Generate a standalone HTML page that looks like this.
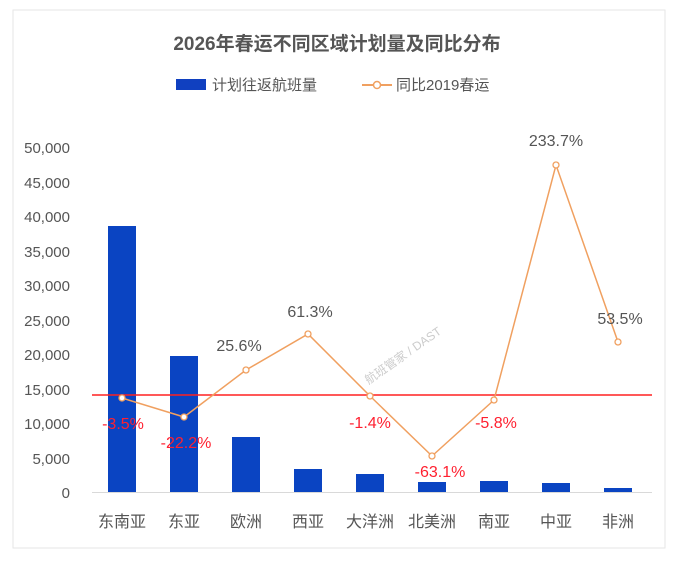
<!DOCTYPE html>
<html><head><meta charset="utf-8"><style>
body{margin:0;background:#fff;}
svg text{font-family:"Liberation Sans","Noto Sans CJK SC",sans-serif;}
</style></head><body>
<svg width="675" height="561" xmlns="http://www.w3.org/2000/svg">
<rect x="0" y="0" width="675" height="561" fill="#fff"/>
<rect x="13" y="10" width="652" height="538" fill="#fff" stroke="#e6e6e6"/>
<text x="337" y="50" text-anchor="middle" font-size="19" font-weight="bold" fill="#555">2026年春运不同区域计划量及同比分布</text>
<rect x="176" y="79" width="30" height="11" fill="#1040c0"/>
<text x="212" y="90" font-size="15" fill="#555">计划往返航班量</text>
<line x1="362" y1="85" x2="392" y2="85" stroke="#f0a060" stroke-width="2"/>
<circle cx="377" cy="85" r="3.5" fill="#fff" stroke="#f0a060" stroke-width="1.5"/>
<text x="396" y="90" font-size="15" fill="#555">同比2019春运</text>
<g font-size="15" fill="#555" text-anchor="end">
<text x="70" y="153">50,000</text><text x="70" y="188">45,000</text><text x="70" y="222">40,000</text>
<text x="70" y="257">35,000</text><text x="70" y="291">30,000</text><text x="70" y="326">25,000</text>
<text x="70" y="360">20,000</text><text x="70" y="395">15,000</text><text x="70" y="429">10,000</text>
<text x="70" y="464">5,000</text><text x="70" y="498">0</text>
</g>
<line x1="92" y1="492.5" x2="652" y2="492.5" stroke="#d9d9d9"/>
<g fill="#0a44c2">
<rect x="108" y="226" width="28" height="266"/>
<rect x="170" y="356" width="28" height="136"/>
<rect x="232" y="437" width="28" height="55"/>
<rect x="294" y="469" width="28" height="23"/>
<rect x="356" y="474" width="28" height="18"/>
<rect x="418" y="482" width="28" height="10"/>
<rect x="480" y="481" width="28" height="11"/>
<rect x="542" y="483" width="28" height="9"/>
<rect x="604" y="488" width="28" height="4"/>
</g>
<text x="345" y="370" font-size="12" fill="#ccc" transform="rotate(-35 380 340)">航班管家 / DAST</text>
<line x1="92" y1="395" x2="652" y2="395" stroke="#ff2020" stroke-width="1.5"/>
<polyline points="122,398 184,417 246,370 308,334 370,396 432,456 494,400 556,165 618,342" fill="none" stroke="#f0a060" stroke-width="1.5"/>
<g fill="#fff" stroke="#f0a060" stroke-width="1.3">
<circle cx="122" cy="398" r="3"/><circle cx="184" cy="417" r="3"/><circle cx="246" cy="370" r="3"/>
<circle cx="308" cy="334" r="3"/><circle cx="370" cy="396" r="3"/><circle cx="432" cy="456" r="3"/>
<circle cx="494" cy="400" r="3"/><circle cx="556" cy="165" r="3"/><circle cx="618" cy="342" r="3"/>
</g>
<g font-size="16" text-anchor="middle">
<text x="123" y="429" fill="#ff2030">-3.5%</text>
<text x="186" y="448" fill="#ff2030">-22.2%</text>
<text x="239" y="351" fill="#555">25.6%</text>
<text x="310" y="317" fill="#555">61.3%</text>
<text x="370" y="428" fill="#ff2030">-1.4%</text>
<text x="440" y="477" fill="#ff2030">-63.1%</text>
<text x="496" y="428" fill="#ff2030">-5.8%</text>
<text x="556" y="146" fill="#555">233.7%</text>
<text x="620" y="324" fill="#555">53.5%</text>
</g>
<g font-size="16" fill="#555" text-anchor="middle">
<text x="122" y="527">东南亚</text><text x="184" y="527">东亚</text><text x="246" y="527">欧洲</text>
<text x="308" y="527">西亚</text><text x="370" y="527">大洋洲</text><text x="432" y="527">北美洲</text>
<text x="494" y="527">南亚</text><text x="556" y="527">中亚</text><text x="618" y="527">非洲</text>
</g>
</svg>
</body></html>
